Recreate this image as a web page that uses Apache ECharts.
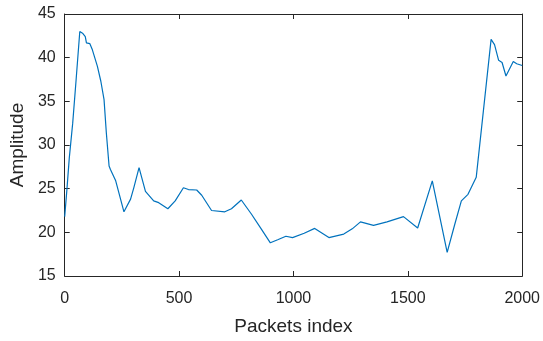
<!DOCTYPE html>
<html>
<head>
<meta charset="utf-8">
<script src="https://cdn.jsdelivr.net/npm/echarts@6/dist/echarts.min.js"></script>
<style>
  html, body { margin: 0; padding: 0; background: #fff; }
  #main { width: 543px; height: 341px; }
</style>
</head>
<body>
<div id="main"></div>
<script>
// packet index / amplitude
var packetIdx = [0, 10, 20, 35, 50, 66, 78, 90, 95, 110, 121, 143, 158, 172, 182, 194, 200,
  223, 259, 288, 302, 325, 353, 389, 411, 451, 483, 519, 541, 577, 599, 642, 700, 729, 772,
  816, 859, 899, 931, 967, 996, 1047, 1093, 1155, 1220, 1257, 1293, 1350, 1409, 1481, 1543,
  1607, 1672, 1705, 1734, 1763, 1799, 1864, 1879, 1897, 1912, 1929, 1961, 1976, 2000];
var amplitude = [21.8, 25.0, 28.5, 32.5, 37.5, 43.0, 42.8, 42.4, 41.7, 41.6, 40.9, 39.0, 37.3, 35.2, 31.4, 27.6, 27.2,
  25.9, 22.35, 23.8, 25.1, 27.4, 24.7, 23.6, 23.4, 22.7, 23.6, 25.1, 24.9, 24.85, 24.25, 22.5, 22.35, 22.7, 23.7,
  22.1, 20.4, 18.8, 19.15, 19.55, 19.4, 19.9, 20.45, 19.4, 19.8, 20.4, 21.2, 20.8, 21.2, 21.8, 20.5,
  25.9, 17.7, 20.9, 23.6, 24.35, 26.3, 42.1, 41.5, 39.7, 39.45, 37.9, 39.55, 39.3, 39.1];
var xTicks = [0, 500, 1000, 1500, 2000];
var yTicks = [15, 20, 25, 30, 35, 40, 45];

var axisColor = '#262626';
var fontFamily = 'Liberation Sans, Arial, sans-serif';

var points = packetIdx.map(function (x, i) { return [x, amplitude[i]]; });

var myChart = echarts.init(document.getElementById('main'));
var option = {
    animation: false,
    grid: { left: 62, right: 20, top: 14, bottom: 64 },
    xAxis: [{
        type: 'value',
        min: xTicks[0], max: xTicks[xTicks.length - 1], interval: 500,
        name: 'Packets index', nameLocation: 'middle', nameGap: 41,
        nameTextStyle: { fontSize: 19, color: axisColor, fontFamily: fontFamily },
        axisLine: { show: true, onZero: false, lineStyle: { color: axisColor, width: 1 } },
        axisTick: { show: true, inside: true, length: 5, lineStyle: { color: axisColor } },
        axisLabel: { fontSize: 16, color: axisColor, fontFamily: fontFamily, margin: 15,
            formatter: function (v) { return String(v); } },
        splitLine: { show: false }
    }, {
        type: 'value', position: 'top',
        min: xTicks[0], max: xTicks[xTicks.length - 1], interval: 500,
        axisLine: { show: true, onZero: false, lineStyle: { color: axisColor, width: 1 } },
        axisTick: { show: true, inside: true, length: 5, lineStyle: { color: axisColor } },
        axisLabel: { show: false },
        splitLine: { show: false }
    }],
    yAxis: [{
        type: 'value',
        min: yTicks[0], max: yTicks[yTicks.length - 1], interval: 5,
        name: 'Amplitude', nameLocation: 'middle', nameGap: 36,
        nameTextStyle: { fontSize: 19, color: axisColor, fontFamily: fontFamily },
        axisLine: { show: true, onZero: false, lineStyle: { color: axisColor, width: 1 } },
        axisTick: { show: true, inside: true, length: 5, lineStyle: { color: axisColor } },
        axisLabel: { fontSize: 16, color: axisColor, fontFamily: fontFamily, margin: 9 },
        splitLine: { show: false }
    }, {
        type: 'value', position: 'right',
        min: yTicks[0], max: yTicks[yTicks.length - 1], interval: 5,
        axisLine: { show: true, onZero: false, lineStyle: { color: axisColor, width: 1 } },
        axisTick: { show: true, inside: true, length: 5, lineStyle: { color: axisColor } },
        axisLabel: { show: false },
        splitLine: { show: false }
    }],
    series: [{
        type: 'line',
        data: points,
        showSymbol: false,
        lineStyle: { color: '#0072BD', width: 1.2 },
        itemStyle: { color: '#0072BD' }
    }]
};
myChart.setOption(option);
</script>
</body>
</html>
